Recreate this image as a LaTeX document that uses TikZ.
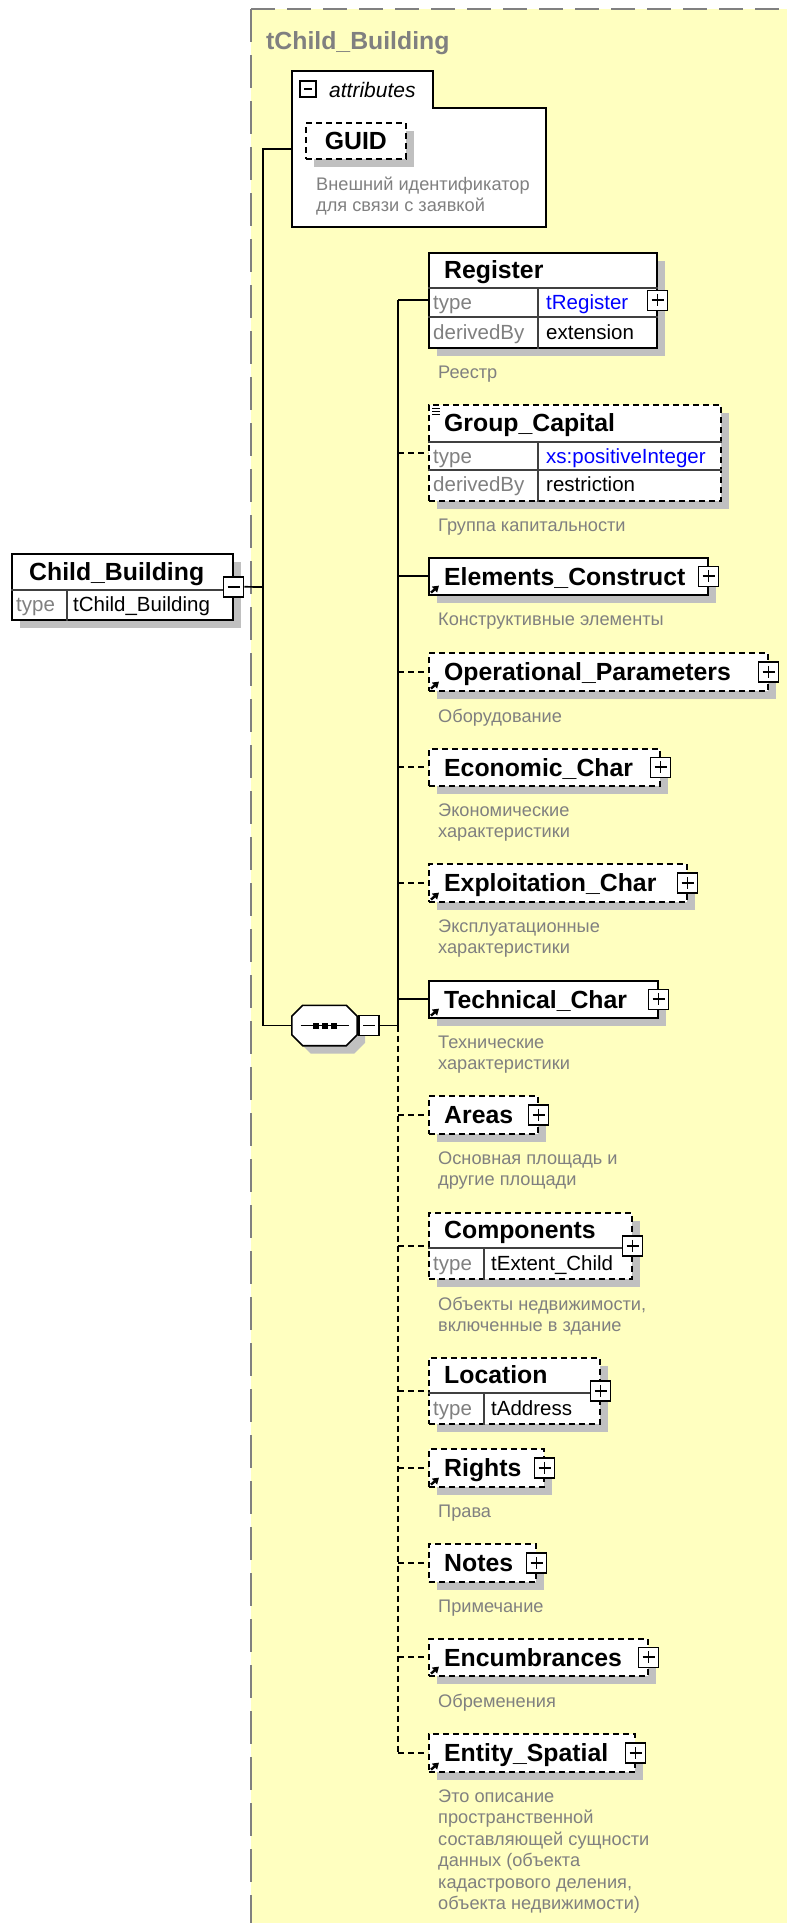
\documentclass[tikz,border=0pt]{standalone}
\usepackage{fontspec}
\setmainfont{Liberation Sans}
\usetikzlibrary{positioning,arrows.meta,shadows}

\definecolor{bgyellow}{RGB}{255,255,192}
\definecolor{shadowgray}{RGB}{192,192,192}
\definecolor{txtgray}{RGB}{128,128,128}
\definecolor{linkblue}{RGB}{0,0,255}

\begin{document}
\begin{tikzpicture}[
  x=1pt, y=-1pt,
  font=\fontsize{20.5}{24}\selectfont,
  elem/.style={draw, fill=white, line width=1.6pt, inner sep=0pt, anchor=north west,
               drop shadow={shadow xshift=8pt, shadow yshift=-8pt, fill=shadowgray, opacity=1}},
  optelem/.style={elem, dash pattern=on 6pt off 4pt},
  ename/.style={font=\bfseries\fontsize{24.8}{28}\selectfont, inner sep=0pt,
                text height=17.7pt, text depth=0pt, anchor=west},
  tval/.style={inner sep=0pt, text height=14.5pt, text depth=0pt, anchor=west},
  tkey/.style={tval, text=txtgray},
  desc/.style={font=\fontsize{18.2}{21.4}\selectfont, text=txtgray, align=left, inner sep=0pt},
  rowline/.style={line width=1.2pt, draw=black!75},
  conn/.style={line width=1.7pt},
  optconn/.style={conn, dash pattern=on 6pt off 4pt},
  plusbox/.style={draw, fill=white, line width=1.6pt, minimum size=20pt, inner sep=0pt,
    path picture={\draw[line width=1.7pt]
      ([xshift=4pt]path picture bounding box.west) -- ([xshift=-4pt]path picture bounding box.east)
      ([yshift=-4pt]path picture bounding box.north) -- ([yshift=4pt]path picture bounding box.south);}},
  minusbox/.style={draw, fill=white, line width=1.6pt, minimum size=20pt, inner sep=0pt,
    path picture={\draw[line width=1.7pt]
      ([xshift=4pt]path picture bounding box.west) -- ([xshift=-4pt]path picture bounding box.east);}},
  refarrow/.style={line width=2.4pt, -{Triangle[length=6pt,width=7.5pt]}},
  seqbox/.style={minimum width=65pt, minimum height=40pt, inner sep=0pt},
]

\useasboundingbox (0,0) rectangle (787,1923);
\fill[white] (0,0) rectangle (787,1923);

% ---- Type area (complex type tChild_Building) --------------------------------
\fill[bgyellow] (251,9) rectangle (787,1923);
\draw[txtgray, line width=1.8pt, dash pattern=on 24pt off 12pt] (251,9) -- (787,9);
\draw[txtgray, line width=1.8pt, dash pattern=on 33pt off 13pt] (251,9) -- (251,1923);
\node[ename, text=txtgray] (tname) at (266,41) {tChild\_Building};

% ---- Root element --------------------------------------------------------------
\node[elem, minimum width=221pt, minimum height=66pt] (cb) at (11,553) {};
\draw[rowline] ([yshift=-37pt]cb.north west) -- ([yshift=-37pt]cb.north east)
               ([shift={(56pt,-37pt)}]cb.north west) -- ([xshift=56pt]cb.south west);
\node[ename] (cbname) at (29,571.5) {Child\_Building};
\node[tkey] (cbkey) at (16,604.5) {type};
\node[tval] (cbval) at (73,604.5) {tChild\_Building};
\node[minusbox] (cbminus) at (cb.east) {};

% ---- Attributes ----------------------------------------------------------------
\draw[fill=white, line width=1.5pt] (292,71) -- (433,71) -- (433,108) -- (546,108)
  -- (546,227) -- (292,227) -- cycle;
\coordinate (attr) at (292,149);
\node[minusbox, minimum size=16pt] (attrminus) at (308,89) {};
\node[anchor=west, inner sep=0pt, font=\itshape\fontsize{21}{24}\selectfont] (attrname) at (329,90) {attributes};

\node[optelem, minimum width=100pt, minimum height=36pt] (guid) at (305,122) {};
\node[ename, anchor=center] (guidname) at (guid.center) {GUID};
\node[desc, below right=17pt and 11pt of guid.south west] (guiddesc) {Внешний идентификатор\\для связи с заявкой};

% ---- Sequence ------------------------------------------------------------------
\node[seqbox] (seq) at (324.5,1025.5) {};
\draw[line width=1.6pt, fill=white,
      drop shadow={shadow xshift=8pt, shadow yshift=-8pt, fill=shadowgray, opacity=1}]
  ([xshift=11pt]seq.north west) -- ([xshift=-11pt]seq.north east)
  -- ([yshift=-11pt]seq.north east) -- ([yshift=11pt]seq.south east)
  -- ([xshift=-11pt]seq.south east) -- ([xshift=11pt]seq.south west)
  -- ([yshift=11pt]seq.south west) -- ([yshift=-11pt]seq.north west) -- cycle;
\draw[line width=1.6pt] ([xshift=-24pt]seq.center) -- ([xshift=24pt]seq.center);
\foreach \dx in {-9,0,9}
  \fill ([shift={(\dx pt-3pt,-3pt)}]seq.center) rectangle ++(6pt,6pt);
\node[minusbox, anchor=west] (seqminus) at ([xshift=1pt]seq.east) {};

% ---- Child elements ------------------------------------------------------------
% Register
\node[elem, minimum width=228pt, minimum height=95pt] (reg) at (428,252) {};
\draw[rowline] ([yshift=-36pt]reg.north west) -- ([yshift=-36pt]reg.north east)
               ([yshift=-65pt]reg.north west) -- ([yshift=-65pt]reg.north east)
               ([shift={(110pt,-36pt)}]reg.north west) -- ([xshift=110pt]reg.south west);
\node[ename] (regname) at (444,270) {Register};
\node[tkey] (regkey1) at (433,302.5) {type};
\node[tval, text=linkblue] (regval1) at (546,302.5) {tRegister};
\node[tkey] (regkey2) at (433,332) {derivedBy};
\node[tval] (regval2) at (546,332) {extension};
\node[plusbox] (regplus) at (reg.east) {};
\node[desc, below right=17pt and 10pt of reg.south west] (regdesc) {Реестр};

% Group_Capital
\node[optelem, minimum width=292pt, minimum height=96pt] (gc) at (428,404) {};
\draw[rowline] ([yshift=-38pt]gc.north west) -- ([yshift=-38pt]gc.north east)
               ([yshift=-66pt]gc.north west) -- ([yshift=-66pt]gc.north east)
               ([shift={(110pt,-38pt)}]gc.north west) -- ([xshift=110pt]gc.south west);
\foreach \dy in {4,7,10}
  \draw[line width=1pt] ([shift={(4pt,-\dy pt)}]gc.north west) -- ++(8pt,0pt);
\node[ename] (gcname) at (444,423) {Group\_Capital};
\node[tkey] (gckey1) at (433,456) {type};
\node[tval, text=linkblue] (gcval1) at (546,456) {xs:positiveInteger};
\node[tkey] (gckey2) at (433,484.5) {derivedBy};
\node[tval] (gcval2) at (546,484.5) {restriction};
\node[desc, below right=17pt and 10pt of gc.south west] (gcdesc) {Группа капитальности};

% Elements_Construct
\node[elem, minimum width=279pt, minimum height=37pt] (ec) at (428,557) {};
\node[ename, right=16pt of ec.west] (ecname) {Elements\_Construct};
\draw[refarrow] ([shift={(3pt,3pt)}]ec.south west) -- ++(8pt,7pt);
\node[plusbox] (ecplus) at (ec.east) {};
\node[desc, below right=17pt and 10pt of ec.south west] (ecdesc) {Конструктивные элементы};

% Operational_Parameters
\node[optelem, minimum width=339pt, minimum height=38pt] (op) at (428,652) {};
\node[ename, right=16pt of op.west] (opname) {Operational\_Parameters};
\draw[refarrow] ([shift={(3pt,3pt)}]op.south west) -- ++(8pt,7pt);
\node[plusbox] (opplus) at (op.east) {};
\node[desc, below right=17pt and 10pt of op.south west] (opdesc) {Оборудование};

% Economic_Char
\node[optelem, minimum width=231pt, minimum height=37pt] (eco) at (428,748) {};
\node[ename, right=16pt of eco.west] (econame) {Economic\_Char};
\node[plusbox] (ecoplus) at (eco.east) {};
\node[desc, below right=17pt and 10pt of eco.south west] (ecodesc) {Экономические\\характеристики};

% Exploitation_Char
\node[optelem, minimum width=258pt, minimum height=38pt] (expl) at (428,863) {};
\node[ename, right=16pt of expl.west] (explname) {Exploitation\_Char};
\draw[refarrow] ([shift={(3pt,3pt)}]expl.south west) -- ++(8pt,7pt);
\node[plusbox] (explplus) at (expl.east) {};
\node[desc, below right=17pt and 10pt of expl.south west] (expldesc) {Эксплуатационные\\характеристики};

% Technical_Char
\node[elem, minimum width=229pt, minimum height=37pt] (tc) at (428,980) {};
\node[ename, right=16pt of tc.west] (tcname) {Technical\_Char};
\draw[refarrow] ([shift={(3pt,3pt)}]tc.south west) -- ++(8pt,7pt);
\node[plusbox] (tcplus) at (tc.east) {};
\node[desc, below right=17pt and 10pt of tc.south west] (tcdesc) {Технические\\характеристики};

% Areas
\node[optelem, minimum width=109pt, minimum height=38pt] (ar) at (428,1095) {};
\node[ename, right=16pt of ar.west] (arname) {Areas};
\node[plusbox] (arplus) at (ar.east) {};
\node[desc, below right=17pt and 10pt of ar.south west] (ardesc) {Основная площадь и\\другие площади};

% Components
\node[optelem, minimum width=203pt, minimum height=66pt] (comp) at (428,1212) {};
\draw[rowline] ([yshift=-36pt]comp.north west) -- ([yshift=-36pt]comp.north east)
               ([shift={(56pt,-36pt)}]comp.north west) -- ([xshift=56pt]comp.south west);
\node[ename] (compname) at (444,1230) {Components};
\node[tkey] (compkey) at (433,1263) {type};
\node[tval] (compval) at (491,1263) {tExtent\_Child};
\node[plusbox] (compplus) at (comp.east) {};
\node[desc, below right=17pt and 10pt of comp.south west] (compdesc) {Объекты недвижимости,\\включенные в здание};

% Location
\node[optelem, minimum width=171pt, minimum height=66pt] (loc) at (428,1357) {};
\draw[rowline] ([yshift=-36pt]loc.north west) -- ([yshift=-36pt]loc.north east)
               ([shift={(56pt,-36pt)}]loc.north west) -- ([xshift=56pt]loc.south west);
\node[ename] (locname) at (444,1375) {Location};
\node[tkey] (lockey) at (433,1408) {type};
\node[tval] (locval) at (491,1408) {tAddress};
\node[plusbox] (locplus) at (loc.east) {};

% Rights
\node[optelem, minimum width=115pt, minimum height=38pt] (rt) at (428,1448) {};
\node[ename, right=16pt of rt.west] (rtname) {Rights};
\draw[refarrow] ([shift={(3pt,3pt)}]rt.south west) -- ++(8pt,7pt);
\node[plusbox] (rtplus) at (rt.east) {};
\node[desc, below right=17pt and 10pt of rt.south west] (rtdesc) {Права};

% Notes
\node[optelem, minimum width=107pt, minimum height=38pt] (nt) at (428,1543) {};
\node[ename, right=16pt of nt.west] (ntname) {Notes};
\node[plusbox] (ntplus) at (nt.east) {};
\node[desc, below right=17pt and 10pt of nt.south west] (ntdesc) {Примечание};

% Encumbrances
\node[optelem, minimum width=219pt, minimum height=37pt] (enc) at (428,1638) {};
\node[ename, right=16pt of enc.west] (encname) {Encumbrances};
\draw[refarrow] ([shift={(3pt,3pt)}]enc.south west) -- ++(8pt,7pt);
\node[plusbox] (encplus) at (enc.east) {};
\node[desc, below right=17pt and 10pt of enc.south west] (encdesc) {Обременения};

% Entity_Spatial
\node[optelem, minimum width=206pt, minimum height=38pt] (es) at (428,1733) {};
\node[ename, right=16pt of es.west] (esname) {Entity\_Spatial};
\draw[refarrow] ([shift={(3pt,3pt)}]es.south west) -- ++(8pt,7pt);
\node[plusbox] (esplus) at (es.east) {};
\node[desc, below right=17pt and 10pt of es.south west] (esdesc)
  {Это описание\\пространственной\\составляющей сущности\\данных (объекта\\кадастрового деления,\\объекта недвижимости)};

% ---- Connectors ----------------------------------------------------------------
\coordinate (trunk) at (263,587);
\draw[conn] (cbminus.east) -- (trunk);
\draw[conn] (attr) -| (trunk) |- (seq.west);

\coordinate (ctrunk) at (398,1025.5);
\draw[conn] (seqminus.east) -- (ctrunk);
\draw[conn] (reg.west -| ctrunk) -- (ctrunk);
\draw[optconn] (ctrunk) -- (es.west -| ctrunk);
\foreach \n in {reg,ec,tc}
  \draw[conn] (\n.west -| ctrunk) -- (\n.west);
\foreach \n in {gc,op,eco,expl,ar,comp,loc,rt,nt,enc,es}
  \draw[optconn] (\n.west -| ctrunk) -- (\n.west);

\end{tikzpicture}
\end{document}
